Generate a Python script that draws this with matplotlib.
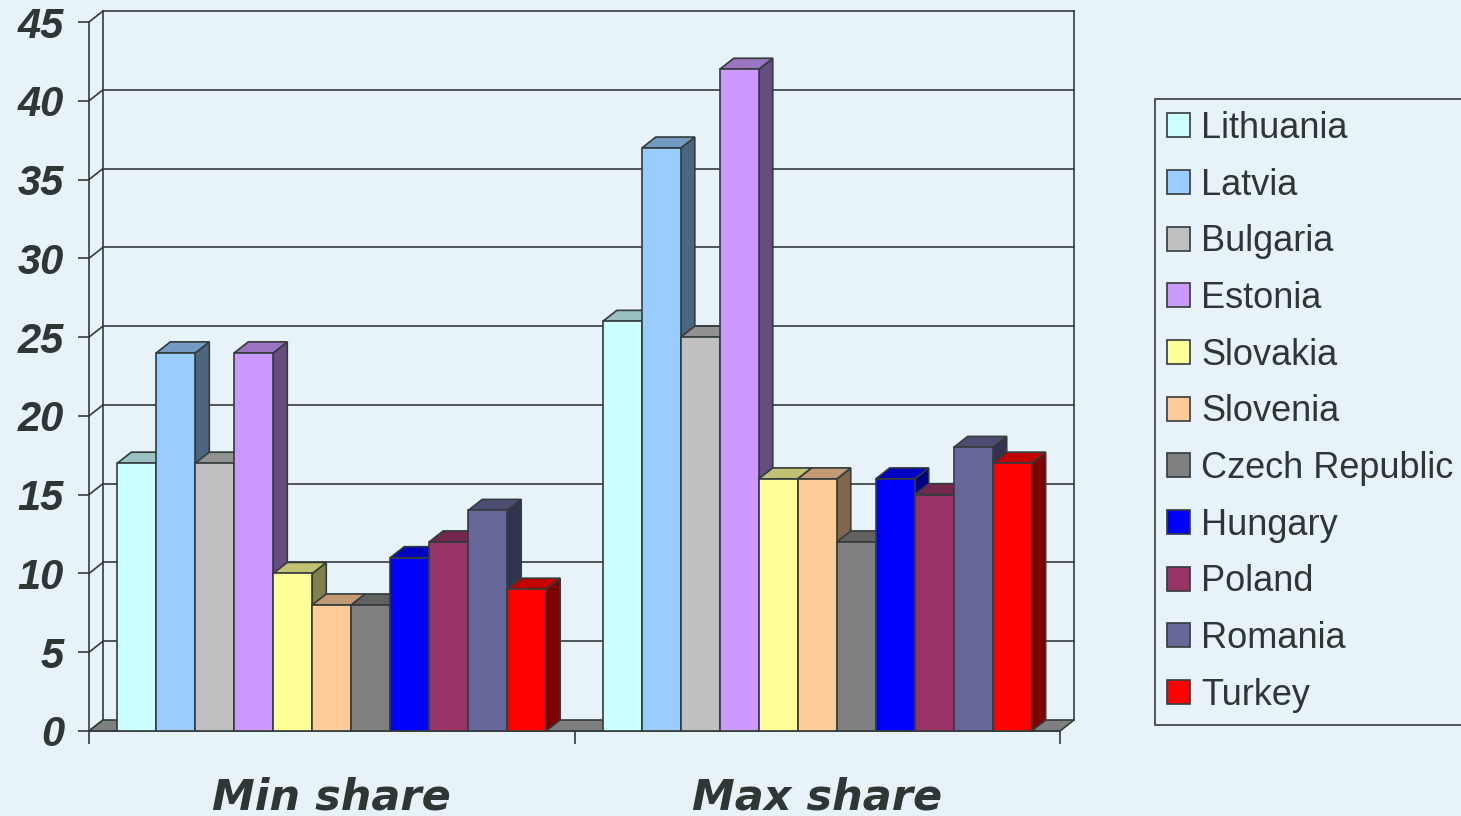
import matplotlib
matplotlib.use('Agg')
import matplotlib.pyplot as plt
from matplotlib.patches import Patch
import matplotlib.colors as mcolors

# data
categories = ['Min share', 'Max share']
countries = ['Lithuania', 'Latvia', 'Bulgaria', 'Estonia', 'Slovakia', 'Slovenia',
             'Czech Republic', 'Hungary', 'Poland', 'Romania', 'Turkey']
min_share = [17, 24, 17, 24, 10, 8, 8, 11, 12, 14, 9]
max_share = [26, 37, 25, 42, 16, 16, 12, 16, 15, 18, 17]
yticks = [0, 5, 10, 15, 20, 25, 30, 35, 40, 45]

colors = ['#CCFFFF', '#99CCFF', '#C0C0C0', '#CC99FF', '#FFFF99', '#FFCC99',
          '#808080', '#0000FF', '#993366', '#666699', '#FF0000']

BG = '#E7F2F9'
EDGE = '#333B3B'
TXT = '#2E3636'
LW = 1.2

# 3d look: depth offset in data units, bar width
DX = 14 / 485.5
DY = 11 / (709 / 45)
W = 0.0803


def shade(c, f):
    r, g, b = mcolors.to_rgb(c)
    return (r * f, g * f, b * f)


fig = plt.figure(figsize=(14.61, 8.16), dpi=100, facecolor=BG)
ax = fig.add_axes([89 / 1461, 85 / 816, 971 / 1461, 709 / 816])
ax.set_facecolor('none')
ax.set_xlim(-0.5, 1.5)
ax.set_ylim(0, 45)

x0, x1 = ax.get_xlim()
ytop = yticks[-1]

# back wall: gridlines, edges and the slanted links to the front axis
for v in yticks[1:]:
    ax.plot([x0 + DX, x1 + DX], [v + DY, v + DY], color=EDGE, lw=LW, zorder=1, clip_on=False)
for v in yticks:
    ax.plot([x0, x0 + DX], [v, v + DY], color=EDGE, lw=LW, zorder=1, clip_on=False)
ax.plot([x0 + DX, x0 + DX], [DY, ytop + DY], color=EDGE, lw=LW, zorder=1, clip_on=False)
ax.plot([x1 + DX, x1 + DX], [DY, ytop + DY], color=EDGE, lw=LW, zorder=1, clip_on=False)

# floor
ax.fill([x0, x1, x1 + DX, x0 + DX], [0, 0, DY, DY], facecolor='#808080',
        edgecolor=EDGE, lw=LW, zorder=1.5, clip_on=False)

# bars
n = len(countries)
for g, vals in enumerate([min_share, max_share]):
    for i, v in enumerate(vals):
        z = 3 + i * 0.1
        left = g + (i - n / 2) * W
        right = left + W
        c = colors[i]
        ax.fill([right, right, right + DX, right + DX], [0, v, v + DY, DY],
                facecolor=shade(c, 0.5), edgecolor=EDGE, lw=LW, zorder=z,
                joinstyle='miter', clip_on=False)
        ax.fill([left, right, right + DX, left + DX], [v, v, v + DY, v + DY],
                facecolor=shade(c, 0.76), edgecolor=EDGE, lw=LW, zorder=z,
                joinstyle='miter', clip_on=False)
        ax.bar(left, v, width=W, align='edge', color=c, edgecolor=EDGE,
               linewidth=LW, zorder=z + 0.05)

# axes formatting
for s in ['top', 'right']:
    ax.spines[s].set_visible(False)
for s in ['left', 'bottom']:
    ax.spines[s].set_color(EDGE)
    ax.spines[s].set_linewidth(LW)
    ax.spines[s].set_zorder(2)

ax.set_yticks(yticks)
ax.tick_params(axis='y', direction='out', length=8, width=LW, color=EDGE,
               pad=10, labelcolor=TXT)
for lab in ax.get_yticklabels():
    lab.set_fontfamily('Liberation Sans')
    lab.set_fontweight('bold')
    lab.set_fontstyle('italic')
    lab.set_fontsize(30)

ax.set_xticks([-0.5, 0.5, 1.5])
ax.set_xticklabels([])
ax.set_xticks([0, 1], minor=True)
ax.set_xticklabels(categories, minor=True, fontfamily='DejaVu Sans',
                   fontweight='bold', fontstyle='italic', fontsize=31, color=TXT)
ax.tick_params(axis='x', which='major', direction='out', length=9, width=LW, color=EDGE)
ax.tick_params(axis='x', which='minor', length=0, pad=33)

# legend
handles = [Patch(facecolor=c, edgecolor=EDGE, linewidth=LW, label=lab)
           for c, lab in zip(colors, countries)]
leg = fig.legend(handles=handles, loc='upper left',
                 bbox_to_anchor=(1155 / 1461, 1 - 99 / 816), borderaxespad=0,
                 frameon=True, fancybox=False, edgecolor=EDGE, facecolor=BG,
                 prop={'family': 'Liberation Sans', 'size': 26},
                 handlelength=0.65, handleheight=0.65, handletextpad=0.3,
                 labelspacing=0.6, borderpad=0.33, labelcolor=TXT)
leg.get_frame().set_linewidth(LW)
leg.get_frame().set_alpha(None)

fig.savefig('out.png', dpi=100, facecolor=BG)
